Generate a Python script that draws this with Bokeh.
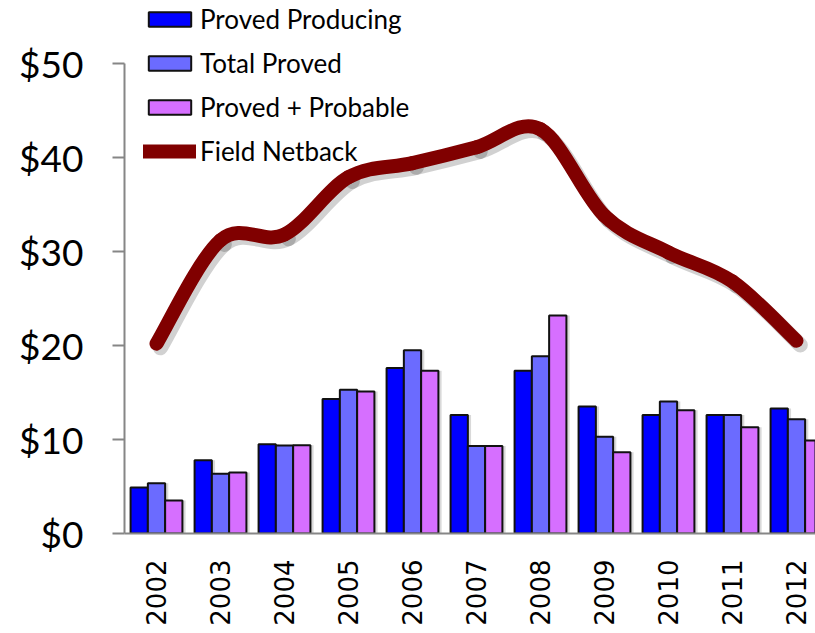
import math
import numpy as np
from bokeh.plotting import figure
from bokeh.models import ColumnDataSource, Range1d, FixedTicker, NumeralTickFormatter, Legend, LegendItem
from bokeh.transform import dodge
from bokeh.embed import file_html
from bokeh.resources import INLINE

years = ["2002", "2003", "2004", "2005", "2006", "2007", "2008", "2009", "2010", "2011", "2012"]
proved_producing = [4.9, 7.8, 9.5, 14.3, 17.6, 12.6, 17.3, 13.5, 12.6, 12.6, 13.3]
total_proved = [5.35, 6.35, 9.35, 15.3, 19.5, 9.3, 18.85, 10.3, 14.05, 12.6, 12.15]
proved_probable = [3.5, 6.5, 9.4, 15.1, 17.3, 9.3, 23.2, 8.65, 13.1, 11.3, 9.9]
field_netback = [20.2, 31.2, 31.8, 37.9, 39.4, 41.1, 43.0, 33.8, 29.9, 26.8, 20.5]
y_ticks = [0, 10, 20, 30, 40, 50]

xc = np.arange(len(years)) + 0.5
bars = ColumnDataSource(dict(x=xc, pp=proved_producing, tp=total_proved, pb=proved_probable))

# smooth (Catmull-Rom style) bezier segments through the netback points
px = np.asarray(xc, dtype=float)
py = np.asarray(field_netback, dtype=float)
n = len(px)
x0, y0, x1, y1, cx0, cy0, cx1, cy1 = [], [], [], [], [], [], [], []
for i in range(n - 1):
    a = max(i - 1, 0)
    d = min(i + 2, n - 1)
    x0.append(px[i]); y0.append(py[i])
    x1.append(px[i + 1]); y1.append(py[i + 1])
    cx0.append(px[i] + (px[i + 1] - px[a]) / 6.0)
    cy0.append(py[i] + (py[i + 1] - py[a]) / 6.0)
    cx1.append(px[i + 1] - (px[d] - px[i]) / 6.0)
    cy1.append(py[i + 1] - (py[d] - py[i]) / 6.0)
line_src = ColumnDataSource(dict(x0=x0, y0=y0, x1=x1, y1=y1, cx0=cx0, cy0=cy0, cx1=cx1, cy1=cy1))

p = figure(width=815, height=633, output_backend="svg", toolbar_location=None,
           x_range=Range1d(0, 10.797), y_range=Range1d(0, 56.7),
           min_border_left=124, min_border_right=0, min_border_top=0, min_border_bottom=100)
p.outline_line_color = None
p.xgrid.visible = False
p.ygrid.visible = False
p.background_fill_color = "white"
p.border_fill_color = "white"

bw = 0.27
sh = 0.05
cols = [("pp", "#0000ff", -bw), ("tp", "#6b6bff", 0.0), ("pb", "#d66fff", bw)]
# shadows
for f, c, off in cols:
    p.vbar(x=dodge("x", off + sh, range=p.x_range), top=f, bottom=0, width=bw, source=bars,
           fill_color="#000000", fill_alpha=0.15, line_color=None)
rs = []
for f, c, off in cols:
    r = p.vbar(x=dodge("x", off, range=p.x_range), top=f, bottom=0, width=bw, source=bars,
               fill_color=c, line_color="#111111", line_width=2)
    rs.append(r)

p.bezier(x0=dodge("x0", 0.06), y0=dodge("y0", -0.45), x1=dodge("x1", 0.06), y1=dodge("y1", -0.45),
         cx0=dodge("cx0", 0.06), cy0=dodge("cy0", -0.45), cx1=dodge("cx1", 0.06), cy1=dodge("cy1", -0.45),
         source=line_src, line_color="#000000", line_alpha=0.18, line_width=15, line_cap="round")
lr = p.bezier(x0="x0", y0="y0", x1="x1", y1="y1", cx0="cx0", cy0="cy0", cx1="cx1", cy1="cy1",
              source=line_src, line_color="#800000", line_width=14, line_cap="round")

legend = Legend(items=[
    LegendItem(label="Proved Producing", renderers=[rs[0]]),
    LegendItem(label="Total Proved", renderers=[rs[1]]),
    LegendItem(label="Proved + Probable", renderers=[rs[2]]),
    LegendItem(label="Field Netback", renderers=[lr]),
], location=(19, 366))
legend.padding = 0
legend.margin = 0
legend.spacing = 12
legend.glyph_width = 53
legend.glyph_height = 18
legend.label_height = 30
legend.label_standoff = 4
legend.label_text_font = "Lato"
legend.label_text_font_size = "26px"
legend.label_text_color = "black"
legend.border_line_color = None
legend.background_fill_alpha = 0
p.add_layout(legend)

ya = p.yaxis[0]
ya.ticker = FixedTicker(ticks=y_ticks)
ya.bounds = (0, 50)
ya.formatter = NumeralTickFormatter(format="$0")
ya.axis_line_color = "#868686"
ya.axis_line_width = 2
ya.major_tick_line_color = "#868686"
ya.major_tick_line_width = 2
ya.major_tick_out = 12
ya.major_tick_in = 0
ya.minor_tick_line_color = None
ya.major_label_standoff = 29
ya.major_label_text_font = "Lato"
ya.major_label_text_font_size = "37px"
ya.major_label_text_color = "black"

xa = p.xaxis[0]
xa.ticker = FixedTicker(ticks=list(xc))
xa.major_label_overrides = {float(v): y for v, y in zip(xc, years)}
xa.major_label_orientation = math.pi / 2
xa.axis_line_color = "#868686"
xa.axis_line_width = 2
xa.major_tick_line_color = None
xa.minor_tick_line_color = None
xa.major_label_standoff = 20
xa.major_label_text_font = "DejaVu Sans"
xa.major_label_text_font_size = "26px"
xa.major_label_text_color = "black"

open("out.html", "w").write(file_html(p, INLINE))
